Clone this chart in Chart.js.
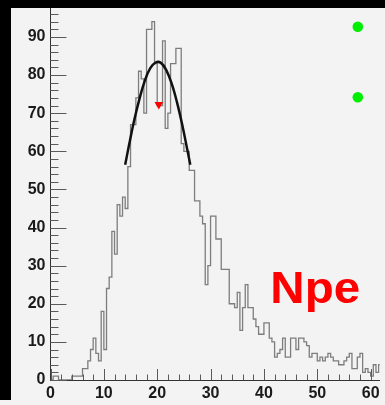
<!DOCTYPE html>
<html lang="en">
<head>
<meta charset="UTF-8">
<title>Npe</title>
<script src="https://cdn.jsdelivr.net/npm/chart.js"></script>
<style>
  html, body { margin: 0; padding: 0; background: #f3f3f3; overflow: hidden; }
  #frame { position: absolute; left: 0; top: -12px; width: 385px; height: 417px; }
  .edge { position: absolute; background: #000; z-index: 2; }
  #edgeLeft { left: 0; top: 0; width: 11px; height: 400px; }
  #edgeTop { left: 0; top: 0; width: 385px; height: 8px; }
</style>
</head>
<body>
<div id="frame"><canvas id="npeChart"></canvas></div>
<div class="edge" id="edgeLeft"></div>
<div class="edge" id="edgeTop"></div>
<script>
// photoelectron count histogram, bins of 0.5 starting at 0
const binStart = 0;
const binWidth = 0.5;
const npeCounts = [
  0, 1, 1, 0, 0, 0, 0, 0, 1, 1, 1, 1, 3, 3, 5, 8, 11, 7, 5, 18,
  8, 24, 27, 39, 33, 46, 43, 48, 45, 56, 67, 67, 74, 81, 79, 70, 92, 92, 94, 83,
  72, 72, 89, 66, 70, 83, 83, 87, 87, 62, 60, 60, 55, 55, 47, 47, 43, 41, 25, 30,
  43, 43, 37, 37, 29, 29, 29, 20, 20, 19, 23, 13, 19, 25, 19, 19, 16, 14, 12, 12,
  15, 15, 11, 10, 6, 7, 8, 11, 6, 6, 11, 11, 8, 11, 11, 10, 9, 6, 7, 7,
  5, 6, 5, 6, 7, 6, 5, 5, 4, 4, 5, 6, 7, 3, 3, 6, 7, 2, 3, 2,
  1, 4, 2, 4
];

// gaussian fit around the peak
const fitX = [14.0, 14.7, 15.7, 16.7, 17.7, 18.7, 19.7, 20.7, 21.7, 22.7, 23.7, 24.7, 25.7, 26.2];
const fitY = [56.5, 61.5, 68.2, 73.9, 78.6, 81.8, 83.3, 83.2, 81.3, 77.8, 72.9, 66.9, 60.0, 56.5];

// mean marker and the two status dots
const markerX = [20.3];
const markerY = [72.3];
const dotX = [57.6, 57.6];
const dotY = [92.7, 74.2];

const xTicks = [0, 10, 20, 30, 40, 50, 60];
const yTicks = [0, 10, 20, 30, 40, 50, 60, 70, 80, 90];

const histPoints = npeCounts.map((c, i) => ({ x: binStart + i * binWidth, y: c }));
histPoints.push({ x: binStart + npeCounts.length * binWidth, y: npeCounts[npeCounts.length - 1] });

// ROOT style ticks pointing into the frame, plus the big label
const frameDecor = {
  id: 'frameDecor',
  afterDatasetsDraw(chart) {
    const { ctx, chartArea, scales: { x, y } } = chart;
    ctx.save();
    ctx.strokeStyle = '#5a5a5a';
    ctx.lineWidth = 1;
    ctx.beginPath();
    for (let v = 0; v <= y.max; v += 2) {
      const py = Math.round(y.getPixelForValue(v)) + 0.5;
      const len = v % 10 === 0 ? 16 : 8;
      ctx.moveTo(chartArea.left, py);
      ctx.lineTo(chartArea.left + len, py);
    }
    for (let v = 0; v <= x.max; v += 2) {
      const px = Math.round(x.getPixelForValue(v)) + 0.5;
      const len = v % 10 === 0 ? 11 : 5.5;
      ctx.moveTo(px, chartArea.bottom);
      ctx.lineTo(px, chartArea.bottom - len);
    }
    ctx.stroke();

    ctx.fillStyle = '#ff0000';
    ctx.font = 'bold 44px "Liberation Sans", Arial, sans-serif';
    ctx.textBaseline = 'alphabetic';
    ctx.translate(x.getPixelForValue(41.2), y.getPixelForValue(20.3));
    ctx.scale(1.08, 1);
    ctx.fillText('Npe', 0, 0);
    ctx.restore();
  }
};

const tickFont = { family: '"Liberation Sans", Arial, sans-serif', size: 16, weight: 'bold' };

new Chart(document.getElementById('npeChart'), {
  type: 'line',
  data: {
    datasets: [
      {
        type: 'scatter',
        data: markerX.map((v, i) => ({ x: v, y: markerY[i] })),
        pointStyle: 'triangle',
        rotation: 180,
        pointRadius: 5,
        backgroundColor: '#ff0000',
        borderWidth: 0,
        order: 0
      },
      {
        type: 'scatter',
        data: dotX.map((v, i) => ({ x: v, y: dotY[i] })),
        pointRadius: 5.3,
        backgroundColor: '#00ee00',
        borderWidth: 0,
        order: 1
      },
      {
        data: fitX.map((v, i) => ({ x: v, y: fitY[i] })),
        borderColor: '#111111',
        borderWidth: 2.5,
        pointRadius: 0,
        tension: 0.4,
        fill: false,
        order: 2
      },
      {
        data: histPoints,
        stepped: 'before',
        borderColor: '#7d7d7d',
        borderWidth: 1.3,
        pointRadius: 0,
        fill: false,
        order: 3
      }
    ]
  },
  options: {
    responsive: true,
    maintainAspectRatio: false,
    animation: false,
    layout: { padding: { top: 20, right: 0, bottom: 0, left: 0 } },
    plugins: {
      legend: { display: false },
      tooltip: { enabled: false }
    },
    scales: {
      x: {
        type: 'linear',
        min: 0,
        max: 61.7,
        afterBuildTicks: s => { s.ticks = xTicks.map(v => ({ value: v })); },
        afterFit: s => { s.height = 25; s.paddingLeft = 0; s.paddingRight = 0; },
        grid: { drawOnChartArea: false, drawTicks: false },
        border: { display: true, color: '#333333', width: 1 },
        ticks: { font: tickFont, color: '#1a1a1a', padding: 4, maxRotation: 0 }
      },
      y: {
        min: 0,
        max: 97.6,
        afterBuildTicks: s => { s.ticks = yTicks.map(v => ({ value: v })); },
        afterFit: s => { s.width = 50.5; },
        grid: { drawOnChartArea: false, drawTicks: false },
        border: { display: true, color: '#333333', width: 1 },
        ticks: { font: tickFont, color: '#1a1a1a', padding: 5 }
      }
    }
  },
  plugins: [frameDecor]
});
</script>
</body>
</html>
